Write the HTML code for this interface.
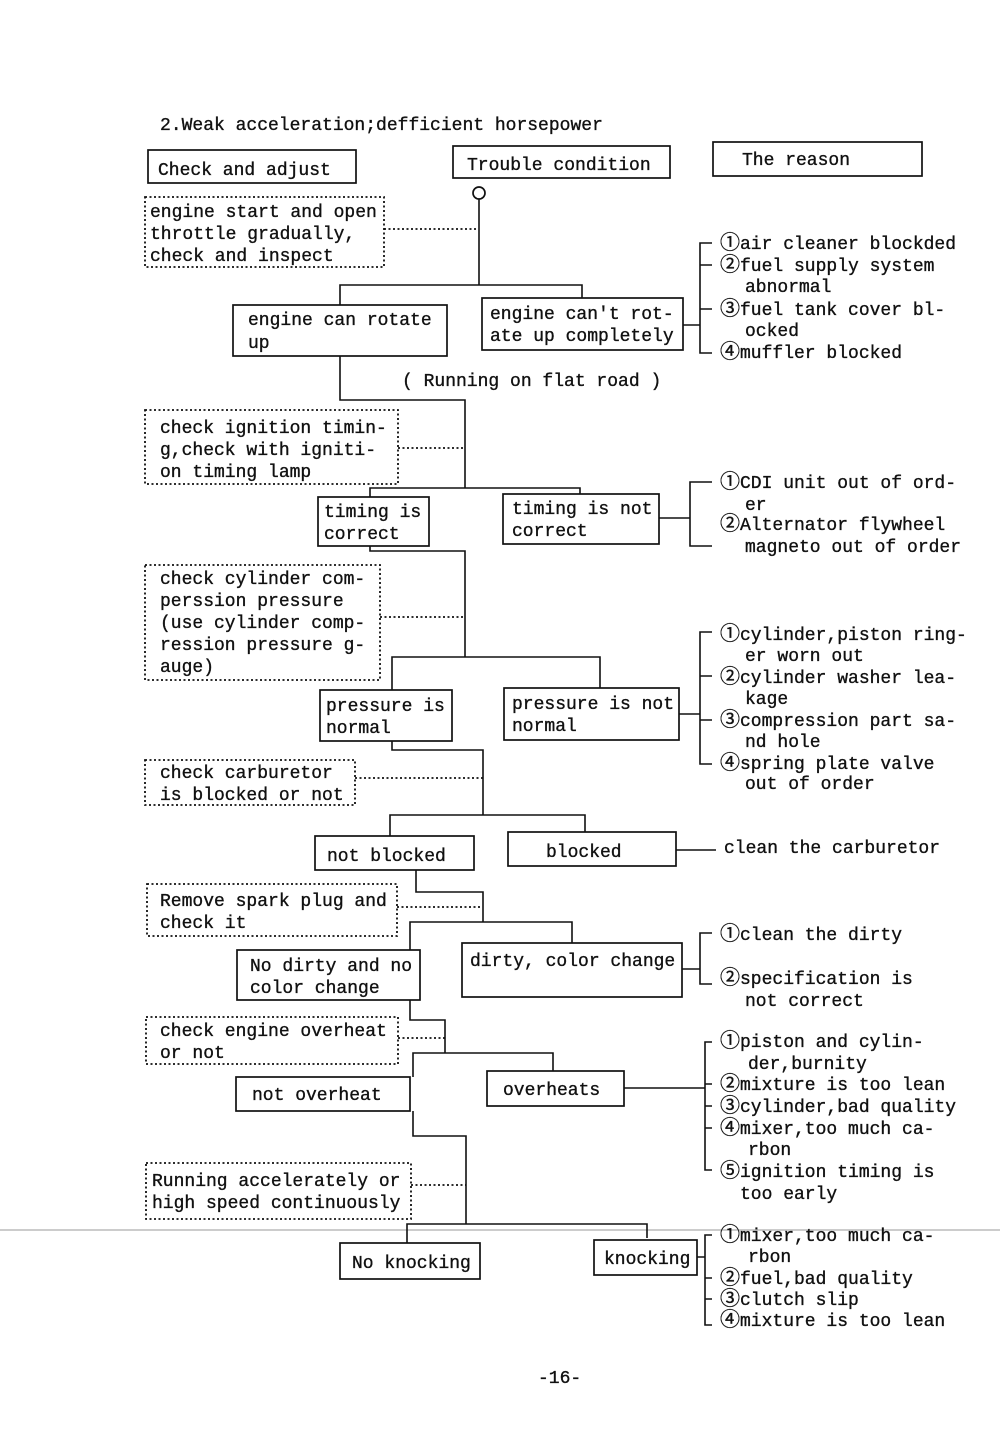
<!DOCTYPE html>
<html><head><meta charset="utf-8"><style>
html,body{margin:0;padding:0;background:#fff;}
svg{display:block;}
text{font-family:"Liberation Mono","Noto Sans CJK JP",monospace;font-size:18px;fill:#111;stroke:#111;stroke-width:0.35;}
.n{font-size:20px;}
.b{fill:none;stroke:#111;stroke-width:1.7;}
.d{fill:none;stroke:#111;stroke-width:1.8;stroke-dasharray:2,2.5;}
.l{stroke:#111;stroke-width:1.6;fill:none;}
</style></head><body>
<svg width="1000" height="1447" viewBox="0 0 1000 1447" xmlns="http://www.w3.org/2000/svg">
<line x1="0" y1="1230" x2="1000" y2="1230" stroke="#999" stroke-width="1"/>
<text x="160" y="130">2.Weak acceleration;defficient horsepower</text>
<rect class="b" x="148" y="150" width="208" height="33"/><text x="158" y="175">Check and adjust</text>
<rect class="b" x="453" y="146" width="217" height="32"/><text x="467" y="170">Trouble condition</text>
<rect class="b" x="713" y="142" width="209" height="34"/><text x="742" y="165">The reason</text>

<circle cx="479" cy="193" r="6" class="b"/>
<path class="l" d="M479 199V285M340 305V285H582V298"/>
<rect class="d" x="145" y="197" width="239" height="70"/>
<text x="150" y="217">engine start and open</text><text x="150" y="239">throttle gradually,</text><text x="150" y="261">check and inspect</text>
<path class="d" d="M384 229H479"/>
<rect class="b" x="233" y="305" width="214" height="51"/><text x="248" y="325">engine can rotate</text><text x="248" y="348">up</text>
<rect class="b" x="482" y="298" width="201" height="52"/><text x="490" y="319">engine can't rot-</text><text x="490" y="341">ate up completely</text>
<path class="l" d="M683 325H700M712 243H700V353H712M700 265H712M700 309H712"/>
<text x="720" y="249"><tspan class="n">①</tspan>air cleaner blockded</text><text x="720" y="271"><tspan class="n">②</tspan>fuel supply system</text><text x="745" y="292">abnormal</text><text x="720" y="315"><tspan class="n">③</tspan>fuel tank cover bl-</text><text x="745" y="336">ocked</text><text x="720" y="358"><tspan class="n">④</tspan>muffler blocked</text>

<text x="402" y="386">( Running on flat road )</text>
<path class="l" d="M340 356V400H465V488M370 497V488H580V494"/>
<rect class="d" x="145" y="410" width="253" height="74"/>
<text x="160" y="433">check ignition timin-</text><text x="160" y="455">g,check with igniti-</text><text x="160" y="477">on timing lamp</text>
<path class="d" d="M398 448H465"/>
<rect class="b" x="318" y="497" width="111" height="49"/><text x="324" y="517">timing is</text><text x="324" y="539">correct</text>
<rect class="b" x="503" y="494" width="156" height="50"/><text x="512" y="514">timing is not</text><text x="512" y="536">correct</text>
<path class="l" d="M659 518H690M712 482H690V546H712"/>
<text x="720" y="488"><tspan class="n">①</tspan>CDI unit out of ord-</text><text x="745" y="510">er</text><text x="720" y="530"><tspan class="n">②</tspan>Alternator flywheel</text><text x="745" y="552">magneto out of order</text>

<path class="l" d="M370 546V551H465V657M392 690V657H600V688"/>
<rect class="d" x="145" y="565" width="235" height="115"/>
<text x="160" y="584">check cylinder com-</text><text x="160" y="606">perssion pressure</text><text x="160" y="628">(use cylinder comp-</text><text x="160" y="650">ression pressure g-</text><text x="160" y="672">auge)</text>
<path class="d" d="M380 617H465"/>
<rect class="b" x="320" y="690" width="132" height="51"/><text x="326" y="711">pressure is</text><text x="326" y="733">normal</text>
<rect class="b" x="504" y="688" width="175" height="52"/><text x="512" y="709">pressure is not</text><text x="512" y="731">normal</text>
<path class="l" d="M679 714H700M712 632H700V764H712M700 676H712M700 720H712"/>
<text x="720" y="640"><tspan class="n">①</tspan>cylinder,piston ring-</text><text x="745" y="661">er worn out</text><text x="720" y="683"><tspan class="n">②</tspan>cylinder washer lea-</text><text x="745" y="704">kage</text><text x="720" y="726"><tspan class="n">③</tspan>compression part sa-</text><text x="745" y="747">nd hole</text><text x="720" y="769"><tspan class="n">④</tspan>spring plate valve</text><text x="745" y="789">out of order</text>

<path class="l" d="M392 741V750H483V815M390 836V815H585V832"/>
<rect class="d" x="145" y="760" width="210" height="45"/>
<text x="160" y="778">check carburetor</text><text x="160" y="800">is blocked or not</text>
<path class="d" d="M355 778H483"/>
<rect class="b" x="315" y="836" width="159" height="34"/><text x="327" y="861">not blocked</text>
<rect class="b" x="508" y="832" width="168" height="34"/><text x="546" y="857">blocked</text>
<path class="l" d="M676 850H716"/><text x="724" y="853">clean the carburetor</text>

<path class="l" d="M416 870V892H483V922M410 950V922H572V943"/>
<rect class="d" x="147" y="884" width="250" height="52"/>
<text x="160" y="906">Remove spark plug and</text><text x="160" y="928">check it</text>
<path class="d" d="M397 907H483"/>
<rect class="b" x="237" y="950" width="183" height="50"/><text x="250" y="971">No dirty and no</text><text x="250" y="993">color change</text>
<rect class="b" x="462" y="943" width="220" height="54"/><text x="470" y="966">dirty, color change</text>
<path class="l" d="M682 969H700M712 933H700V984H712"/>
<text x="720" y="940"><tspan class="n">①</tspan>clean the dirty</text><text x="720" y="984"><tspan class="n">②</tspan>specification is</text><text x="745" y="1006">not correct</text>

<path class="l" d="M410 1000V1020H445V1053M413 1077V1053H553V1071"/>
<rect class="d" x="146" y="1017" width="252" height="47"/>
<text x="160" y="1036">check engine overheat</text><text x="160" y="1058">or not</text>
<path class="d" d="M398 1038H445"/>
<rect class="b" x="236" y="1077" width="174" height="34"/><text x="252" y="1100">not overheat</text>
<rect class="b" x="487" y="1071" width="137" height="35"/><text x="503" y="1095">overheats</text>
<path class="l" d="M624 1088H705M712 1042H705V1170H712M705 1084H712M705 1106H712M705 1128H712"/>
<text x="720" y="1047"><tspan class="n">①</tspan>piston and cylin-</text><text x="748" y="1069">der,burnity</text><text x="720" y="1090"><tspan class="n">②</tspan>mixture is too lean</text><text x="720" y="1112"><tspan class="n">③</tspan>cylinder,bad quality</text><text x="720" y="1134"><tspan class="n">④</tspan>mixer,too much ca-</text><text x="748" y="1155">rbon</text><text x="720" y="1177"><tspan class="n">⑤</tspan>ignition timing is</text><text x="740" y="1199">too early</text>

<path class="l" d="M413 1111V1136H466V1224M407 1243V1224H647V1238"/>
<rect class="d" x="146" y="1163" width="265" height="56"/>
<text x="152" y="1186">Running accelerately or</text><text x="152" y="1208">high speed continuously</text>
<path class="d" d="M411 1185H466"/>
<rect class="b" x="340" y="1243" width="140" height="36"/><text x="352" y="1268">No knocking</text>
<rect class="b" x="594" y="1240" width="103" height="35"/><text x="604" y="1264">knocking</text>
<path class="l" d="M697 1257H705M712 1235H705V1325H712M705 1278H712M705 1299H712"/>
<text x="720" y="1241"><tspan class="n">①</tspan>mixer,too much ca-</text><text x="748" y="1262">rbon</text><text x="720" y="1284"><tspan class="n">②</tspan>fuel,bad quality</text><text x="720" y="1305"><tspan class="n">③</tspan>clutch slip</text><text x="720" y="1326"><tspan class="n">④</tspan>mixture is too lean</text>

<text x="538" y="1383">-16-</text>
</svg>
</body></html>
